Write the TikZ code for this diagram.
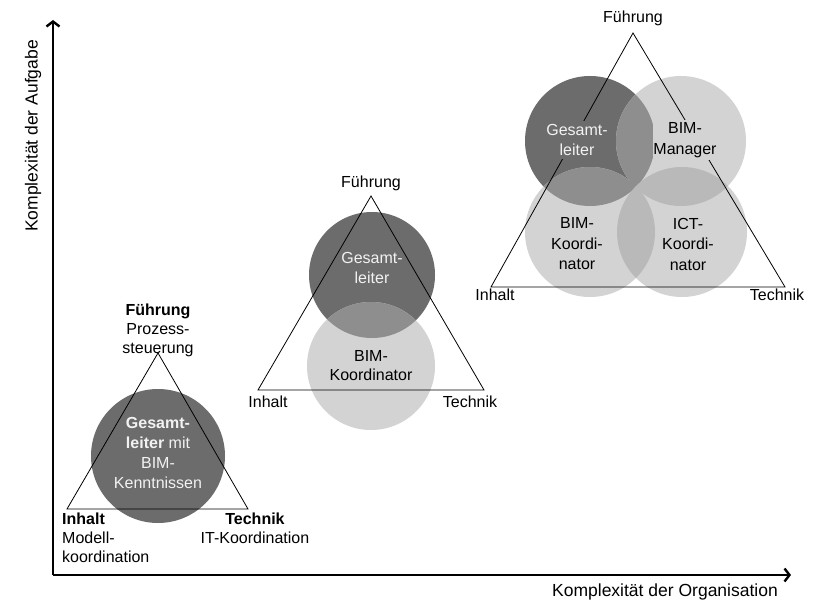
\documentclass[tikz,border=0pt]{standalone}
\usepackage{fontspec}
\setmainfont{Liberation Sans}
\usetikzlibrary{arrows.meta}
\definecolor{darkc}{HTML}{6C6C6C}
\definecolor{lightc}{HTML}{D3D3D3}
\definecolor{midc}{HTML}{8E8E8E}
\definecolor{llc}{HTML}{B9B9B9}
\definecolor{whtxt}{HTML}{F2F2F2}
\begin{document}
\begin{tikzpicture}[x=1pt,y=-1pt,
  lbl/.style={inner sep=0pt, align=center, font=\fontsize{16}{19}\selectfont},
  inlbl/.style={inner sep=0pt, align=center, font=\fontsize{16}{20.5}\selectfont},
  axlbl/.style={inner sep=0pt, font=\fontsize{17.5}{20}\selectfont},
  axis/.style={line width=2.4pt, -{Straight Barb[length=5pt,width=13pt,line width=2.4pt]}},
  tri/.style={line width=0.8pt, line join=miter},
  dcirc/.style={circle, fill=darkc, draw=none, inner sep=0pt},
  lcirc/.style={circle, fill=lightc, draw=none, inner sep=0pt}]
\useasboundingbox (0,0) rectangle (818,601);
\fill[white] (0,0) rectangle (818,601);

% axes
\coordinate (o) at (53,575);
\coordinate (ytip) at (53,20);
\coordinate (xtip) at (791,575);
\draw[axis] (o) -- (ytip);
\draw[axis] (o) -- (xtip);
\node[axlbl, rotate=90] (ylab) at (33,136) {Komplexität der Aufgabe};
\node[axlbl] (xlab) at (665,592) {Komplexität der Organisation};

% ---------- small triangle ----------
\node[dcirc, minimum size=134pt] (c1) at (158,456) {};
\coordinate (a1) at (158,353);
\coordinate (l1) at (67,509);
\coordinate (r1) at (248,509);
\draw[tri] (a1) -- (l1) -- (r1) -- cycle;
\node[lbl] (f1) at (158,330) {\textbf{Führung}\\Prozess-\\steuerung};
\node[lbl, anchor=west, align=left] (i1) at (62,538) {\textbf{Inhalt}\\Modell-\\koordination};
\node[lbl] (t1) at (255,528) {\textbf{Technik}\\IT-Koordination};
\node[lbl, text=whtxt, font=\fontsize{16}{20}\selectfont] (g1) at (158,453) {\textbf{Gesamt-}\\\textbf{leiter} mit\\BIM-\\Kenntnissen};

% ---------- middle triangle ----------
\node[dcirc, minimum size=126pt] (c2a) at (372,275) {};
\node[lcirc, minimum size=128pt] (c2b) at (371,366) {};
\begin{scope}
  \clip (372,275) circle (63);
  \fill[midc] (371,366) circle (64);
\end{scope}
\coordinate (a2) at (371,196);
\coordinate (l2) at (258,390);
\coordinate (r2) at (484,390);
\draw[tri] (a2) -- (l2) -- (r2) -- cycle;
\node[lbl] (f2) at (371,183) {Führung};
\node[lbl] (i2) at (268,402) {Inhalt};
\node[lbl] (t2) at (470,402) {Technik};
\node[inlbl, text=whtxt, font=\fontsize{16}{20}\selectfont] (g2) at (372,268) {Gesamt-\\leiter};
\node[inlbl, font=\fontsize{16}{19}\selectfont] (b2) at (371,366) {BIM-\\Koordinator};

% ---------- right triangle ----------
\node[dcirc, minimum size=130pt] (c3g) at (590,141) {};
\node[lcirc, minimum size=130pt] (c3m) at (681,141) {};
\node[lcirc, minimum size=130pt] (c3k) at (590,232) {};
\node[lcirc, minimum size=130pt] (c3i) at (682,232) {};
\begin{scope}
  \clip (590,141) circle (65);
  \fill[midc] (681,141) circle (65);
  \fill[midc] (590,232) circle (65);
\end{scope}
\begin{scope}
  \clip (682,232) circle (65);
  \fill[llc] (681,141) circle (65);
  \fill[llc] (590,232) circle (65);
\end{scope}
\coordinate (a3) at (633,33);
\coordinate (l3) at (491,287);
\coordinate (r3) at (785,287);
\draw[tri] (a3) -- (l3) -- (r3) -- cycle;
\node[lbl] (f3) at (633,18) {Führung};
\node[lbl] (i3) at (495,295) {Inhalt};
\node[lbl] (t3) at (777,295) {Technik};
\node[inlbl, text=whtxt, fill=darkc, inner ysep=3pt, inner xsep=0pt] (g3) at (577,140) {Gesamt-\\leiter};
\node[inlbl, fill=lightc, inner ysep=3pt, inner xsep=0pt] (m3) at (685,140) {BIM-\\Manager};
\node[inlbl] (k3) at (577,244) {BIM-\\Koordi-\\nator};
\node[inlbl] (ict3) at (688,244) {ICT-\\Koordi-\\nator};
\end{tikzpicture}
\end{document}
